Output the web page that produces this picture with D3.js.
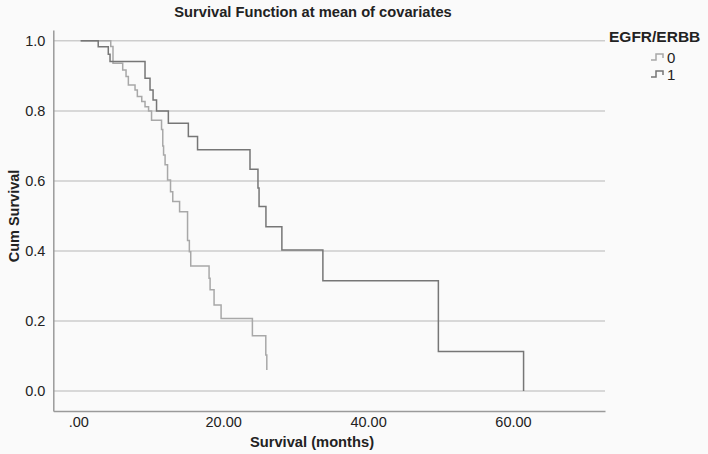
<!DOCTYPE html>
<html><head><meta charset="utf-8">
<script src="https://cdn.jsdelivr.net/npm/d3@7"></script>
<style>
html,body{margin:0;padding:0;background:#fafafa;}
svg{display:block;font-family:"Liberation Sans",Arial,sans-serif;}
</style></head>
<body>
<svg id="chart" width="708" height="454"></svg>
<script>
// Group labels
const groups = ["0", "1"];
// Group 0 (EGFR/ERBB = 0): event times (months) and cumulative survival
const timesG0 = [0.33, 4.48, 4.79, 6.13, 6.59, 6.91, 7.83, 8.15, 8.76, 9.21, 9.70, 10.11, 11.49, 11.66, 11.77, 11.98, 12.32, 12.73, 13.04, 13.98, 15.08, 15.33, 15.52, 18.05, 18.19, 18.74, 19.71, 24.03, 25.88, 26.02];
const survG0  = [1.0, 0.984, 0.936, 0.917, 0.898, 0.874, 0.860, 0.841, 0.827, 0.812, 0.800, 0.773, 0.747, 0.700, 0.674, 0.646, 0.603, 0.569, 0.541, 0.512, 0.430, 0.398, 0.357, 0.322, 0.289, 0.246, 0.207, 0.158, 0.103, 0.060];
// Group 1 (EGFR/ERBB = 1)
const timesG1 = [0.33, 2.75, 4.14, 4.38, 9.21, 9.90, 10.32, 10.80, 12.43, 15.19, 16.46, 23.70, 24.80, 24.95, 25.90, 28.10, 33.76, 49.70, 61.46];
const survG1  = [1.0, 0.983, 0.962, 0.941, 0.893, 0.860, 0.831, 0.800, 0.765, 0.727, 0.689, 0.633, 0.580, 0.527, 0.469, 0.403, 0.315, 0.113, 0.0];
// Axis ticks
const xTicks = [0, 20, 40, 60];
const xTickLabels = [".00", "20.00", "40.00", "60.00"];
const yTicks = [0.0, 0.2, 0.4, 0.6, 0.8, 1.0];
const yTickLabels = ["0.0", "0.2", "0.4", "0.6", "0.8", "1.0"];

const svg = d3.select("#chart");
const x = d3.scaleLinear().domain([-3.45, 72.7]).range([53.3, 605]);
const y = d3.scaleLinear().domain([-0.057, 1.031]).range([411, 30]);
const FONT = "Liberation Sans, Arial, sans-serif";

// background
svg.append("rect").attr("width", 708).attr("height", 454).attr("fill", "#fafafa");

// gridlines
svg.append("g").selectAll("line").data(yTicks).join("line")
  .attr("x1", x.range()[0]).attr("x2", x.range()[1])
  .attr("y1", d => y(d)).attr("y2", d => y(d))
  .attr("stroke", "#cdcdcd").attr("stroke-width", 1.5);

// y axis
const yAxis = svg.append("g").attr("transform", `translate(${x.range()[0]},0)`)
  .call(d3.axisLeft(y).tickValues(yTicks).tickFormat((d, i) => yTickLabels[i]).tickSize(0).tickPadding(8));
yAxis.select(".domain").attr("stroke", "#9a9a9a").attr("stroke-width", 1.5);
yAxis.selectAll("text").attr("font-size", 14.5).attr("fill", "#222").attr("font-family", FONT);

// x axis
const xAxis = svg.append("g").attr("transform", `translate(0,${y.range()[0]})`)
  .call(d3.axisBottom(x).tickValues(xTicks).tickFormat((d, i) => xTickLabels[i]).tickSize(0).tickPadding(6));
xAxis.select(".domain").attr("stroke", "#9a9a9a").attr("stroke-width", 1.5);
xAxis.selectAll("text").attr("font-size", 14.5).attr("fill", "#222").attr("font-family", FONT);

// curves
const line = d3.line().x(d => x(d[0])).y(d => y(d[1])).curve(d3.curveStepAfter);
const data0 = timesG0.map((t, i) => [t, survG0[i]]);
const data1 = timesG1.map((t, i) => [t, survG1[i]]);
svg.append("path").datum(data0).attr("d", line).attr("fill", "none").attr("stroke", "#a8a8a8").attr("stroke-width", 1.5);
svg.append("path").datum(data1).attr("d", line).attr("fill", "none").attr("stroke", "#767676").attr("stroke-width", 1.5);

// title
svg.append("text").attr("x", 313).attr("y", 17).attr("text-anchor", "middle")
  .attr("font-size", 14.7).attr("font-weight", "bold").attr("fill", "#222")
  .text("Survival Function at mean of covariates");

// axis titles
svg.append("text").attr("x", 312).attr("y", 447).attr("text-anchor", "middle")
  .attr("font-size", 14.7).attr("font-weight", "bold").attr("fill", "#222")
  .text("Survival (months)");
svg.append("text").attr("transform", "translate(19,216) rotate(-90)").attr("text-anchor", "middle")
  .attr("font-size", 14.5).attr("font-weight", "bold").attr("fill", "#222")
  .text("Cum Survival");

// legend
const lg = svg.append("g");
lg.append("text").attr("x", 609).attr("y", 42).attr("font-size", 15.5).attr("font-weight", "bold").attr("fill", "#222").text("EGFR/ERBB");
const legColors = ["#a8a8a8", "#767676"];
groups.forEach((g, i) => {
  const cy = 57 + i * 17;
  lg.append("path").attr("d", `M651,${cy + 3}H656V${cy - 3}H663V${cy + 1}`)
    .attr("fill", "none").attr("stroke", legColors[i]).attr("stroke-width", 1.5);
  lg.append("text").attr("x", 667).attr("y", cy + 5.5).attr("font-size", 15).attr("fill", "#222").text(g);
});
</script>
</body></html>
